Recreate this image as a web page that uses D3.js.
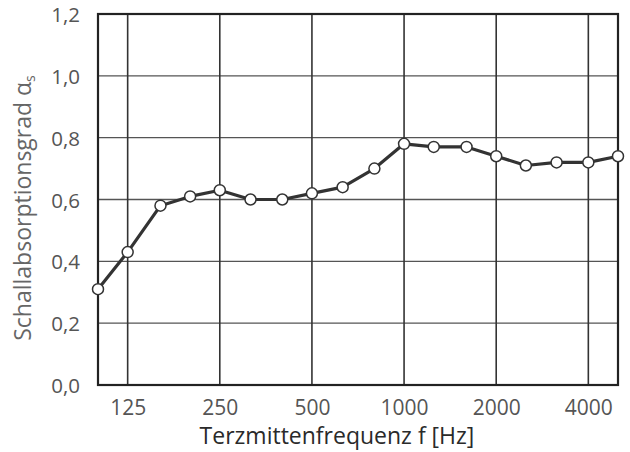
<!DOCTYPE html>
<html><head><meta charset="utf-8">
<script src="https://cdn.jsdelivr.net/npm/d3@7"></script>
<style>body{margin:0;background:#fff}svg{display:block}text{font-family:"Open Sans","Noto Sans",sans-serif}</style>
</head><body><svg id="c" width="630" height="452"></svg>
<script>
const freqs = [100,125,160,200,250,315,400,500,630,800,1000,1250,1600,2000,2500,3150,4000,5000];
const alpha = [0.31,0.43,0.58,0.61,0.63,0.60,0.60,0.62,0.64,0.70,0.78,0.77,0.77,0.74,0.71,0.72,0.72,0.74];
const xTicks = [125,250,500,1000,2000,4000];
const yTicks = [0,0.2,0.4,0.6,0.8,1.0,1.2];
const xTitle = "Terzmittenfrequenz f [Hz]";
const yTitle = "Schallabsorptionsgrad \u03b1";

const svg = d3.select("#c");
const L=98,R=618,T=14,B=385;
const x = d3.scaleLog().domain([100,5000]).range([L,R]);
const y = d3.scaleLinear().domain([0,1.2]).range([B,T]);
const fmt = v => d3.format(".1f")(v).replace(".",",");

// horizontal grid
svg.append("g").selectAll("line").data(yTicks.slice(1,-1)).join("line")
  .attr("x1",L).attr("x2",R).attr("y1",d=>y(d)).attr("y2",d=>y(d))
  .attr("stroke","#555").attr("stroke-width",1.3);
// vertical grid
svg.append("g").selectAll("line").data(xTicks).join("line")
  .attr("x1",d=>x(d)).attr("x2",d=>x(d)).attr("y1",T).attr("y2",B)
  .attr("stroke","#333").attr("stroke-width",1.6);
// frame
svg.append("rect").attr("x",L).attr("y",T).attr("width",R-L).attr("height",B-T)
  .attr("fill","none").attr("stroke","#222").attr("stroke-width",2.2);

// axes labels
const ya = d3.axisLeft(y).tickValues(yTicks).tickFormat(fmt).tickSize(0).tickPadding(18);
const gy = svg.append("g").attr("transform",`translate(${L},1)`).call(ya);
gy.select(".domain").remove();
gy.selectAll("text").attr("font-size",20.5).attr("fill","#555").attr("font-family","Open Sans");
const xa = d3.axisBottom(x).tickValues(xTicks).tickFormat(d3.format("d")).tickSize(0).tickPadding(15);
const gx = svg.append("g").attr("transform",`translate(0,${B})`).call(xa);
gx.select(".domain").remove();
gx.selectAll("text").attr("font-size",21).attr("fill","#555").attr("font-family","Open Sans");

svg.append("text").attr("x",337).attr("y",444).attr("text-anchor","middle")
  .attr("font-size",23).attr("fill","#2a2a2a").text(xTitle);
const yt = svg.append("text").attr("transform","translate(31,208) rotate(-90)").attr("text-anchor","middle")
  .attr("font-size",23).attr("fill","#666");
yt.append("tspan").text(yTitle);
yt.append("tspan").attr("font-size",14).attr("dy",4).text("s");

// series
const line = d3.line().x((d,i)=>x(freqs[i])).y(d=>y(d));
svg.append("path").datum(alpha).attr("d",line).attr("fill","none")
  .attr("stroke","#333").attr("stroke-width",3.2).attr("stroke-linejoin","round");
svg.append("g").selectAll("circle").data(alpha).join("circle")
  .attr("cx",(d,i)=>x(freqs[i])).attr("cy",d=>y(d)).attr("r",5.5)
  .attr("fill","#fff").attr("stroke","#333").attr("stroke-width",1.5);
</script></body></html>
